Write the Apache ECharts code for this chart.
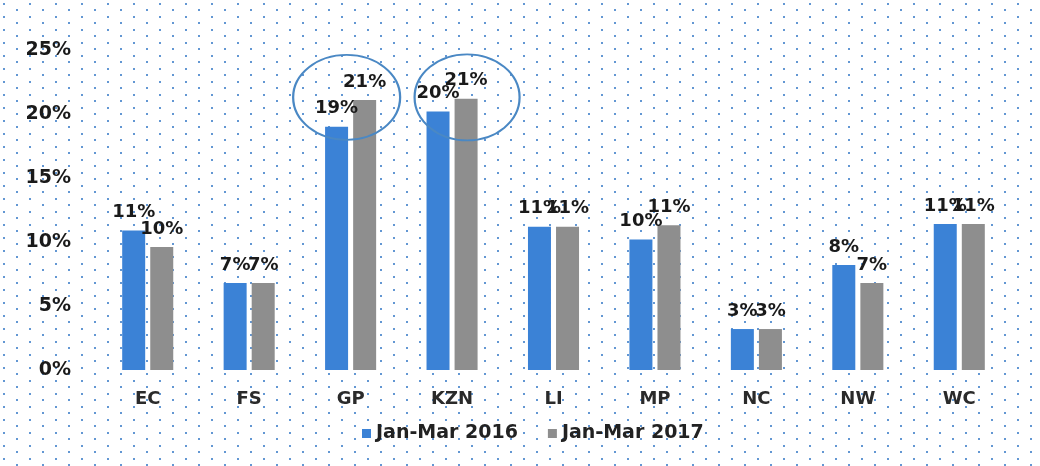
<!DOCTYPE html>
<html>
<head>
<meta charset="utf-8">
<script src="https://cdn.jsdelivr.net/npm/echarts@6/dist/echarts.min.js"></script>
<style>
  html, body { margin: 0; padding: 0; background: #fff; }
  #idChart { width: 1040px; height: 466px; }
</style>
</head>
<body>
<div id="idChart"></div>
<script>
var categories = ['EC', 'FS', 'GP', 'KZN', 'LI', 'MP', 'NC', 'NW', 'WC'];
var data2016 = [10.9, 6.8, 19.0, 20.2, 11.2, 10.2, 3.2, 8.2, 11.4];
var data2017 = [9.6, 6.8, 21.1, 21.2, 11.2, 11.3, 3.2, 6.8, 11.4];
var seriesNames = ['Jan-Mar 2016', 'Jan-Mar 2017'];
var circled = ['GP', 'KZN'];

// dotted scan-like background
var dots = document.createElement('canvas');
dots.width = 26; dots.height = 13;
var ctx = dots.getContext('2d');
ctx.fillStyle = 'rgba(60,125,200,0.8)';
ctx.fillRect(3, 3, 2, 2);
ctx.fillRect(16, 9, 2, 2);
document.body.style.background = '#fff url(' + dots.toDataURL() + ') repeat';

var myChart = echarts.init(document.getElementById('idChart'));

var labelStyle = {
    show: true,
    position: 'top',
    distance: 9,
    color: '#1a1a1a',
    fontFamily: 'DejaVu Sans',
    fontWeight: 'bold',
    fontSize: 18,
    formatter: function (p) { return Math.round(p.value) + '%'; }
};

var Options = {
    color: ['#3b82d6', '#8e8e8e'],
    backgroundColor: 'transparent',
    grid: {
        left: 97,
        right: 30,
        top: 50,
        bottom: 96
    },
    legend: {
        bottom: 18,
        left: 357,
        itemWidth: 9,
        itemHeight: 9,
        itemGap: 30,
        icon: 'rect',
        textStyle: {
            color: '#222',
            fontFamily: 'DejaVu Sans',
            fontWeight: 'bold',
            fontSize: 19
        },
        data: seriesNames
    },
    xAxis: {
        type: 'category',
        data: categories,
        axisLine: { show: false },
        axisTick: { show: false },
        splitLine: { show: false },
        axisLabel: {
            margin: 20,
            color: '#2a2a2a',
            fontFamily: 'DejaVu Sans',
            fontWeight: 'bold',
            fontSize: 18
        }
    },
    yAxis: {
        type: 'value',
        min: 0,
        max: 25,
        interval: 5,
        axisLine: { show: false },
        axisTick: { show: false },
        splitLine: { show: false },
        axisLabel: {
            margin: 26,
            color: '#1a1a1a',
            fontFamily: 'DejaVu Sans',
            fontWeight: 'bold',
            fontSize: 19,
            formatter: '{value}%'
        }
    },
    series: [
        {
            name: seriesNames[0],
            type: 'bar',
            barWidth: 23,
            barGap: '22%',
            label: labelStyle,
            data: data2016
        },
        {
            name: seriesNames[1],
            type: 'bar',
            barWidth: 23,
            label: labelStyle,
            data: data2017,
            markPoint: {
                symbol: 'circle',
                silent: true,
                label: { show: false },
                itemStyle: {
                    color: 'rgba(0,0,0,0)',
                    borderColor: '#4a88c4',
                    borderWidth: 2
                },
                data: [
                    { coord: [circled[0], 21.3], symbolSize: [107, 85], symbolOffset: [-18, 0] },
                    { coord: [circled[1], 21.3], symbolSize: [105, 86], symbolOffset: [1, 0] }
                ]
            }
        }
    ],
    animation: false
};

myChart.setOption(Options);
</script>
</body>
</html>
